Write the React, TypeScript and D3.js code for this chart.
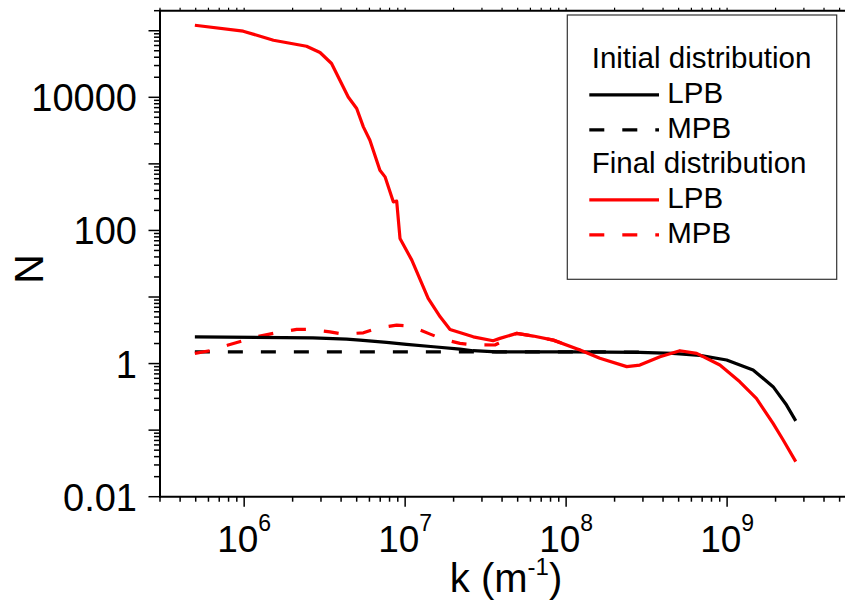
import React from 'react';
import * as d3 from 'd3';

// ---- data ----
const kInitLPB = [4.94e5, 2.67e6, 4.33e6, 5.24e6, 7.67e6, 1.02e7, 1.5e7, 2.19e7, 2.64e7, 3.7e7, 1.1e8, 2.87e8, 4.6e8, 6.77e8, 9.93e8, 1.45e9, 1.93e9, 2.34e9, 2.67e9];
const nInitLPB = [2.52, 2.44, 2.33, 2.25, 2.08, 1.94, 1.79, 1.65, 1.56, 1.5, 1.5, 1.47, 1.42, 1.33, 1.13, 0.8, 0.45, 0.238, 0.138];

const kInitMPB = [4.94e5, 1e6, 3e6, 1e7, 3e7, 1e8, 3e8];
const nInitMPB = [1.5, 1.5, 1.5, 1.5, 1.5, 1.5, 1.49];

const kFinalLPB = [4.94e5, 9.86e5, 1.52e6, 2.44e6, 2.96e6, 3.49e6, 4.43e6, 5.0e6, 5.5e6, 6.04e6, 6.97e6, 7.5e6, 8.44e6, 8.86e6, 9.29e6, 1.1e7, 1.39e7, 1.65e7, 1.9e7, 2.65e7, 3.52e7, 3.88e7, 4.93e7, 6.25e7, 8.32e7, 1.22e8, 1.62e8, 2.38e8, 2.87e8, 3.83e8, 5.09e8, 6.47e8, 9.02e8, 1.2e9, 1.52e9, 1.93e9, 2.23e9, 2.67e9];
const nFinalLPB = [1.21e5, 9.84e4, 7.2e4, 5.85e4, 4.71e4, 3.22e4, 1.01e4, 6790, 3600, 2270, 804, 638, 269, 275, 75.9, 35.8, 9.53, 5.05, 3.26, 2.52, 2.2, 2.39, 2.84, 2.59, 2.25, 1.6, 1.2, 0.9, 0.95, 1.27, 1.56, 1.42, 0.95, 0.533, 0.3, 0.126, 0.071, 0.0336];

const kFinalMPB = [4.94e5, 6.14e5, 7.96e5, 9.86e5, 1.25e6, 1.59e6, 2.12e6, 2.56e6, 3.41e6, 4.13e6, 5.5e6, 6.65e6, 8.86e6, 1.07e7, 1.43e7, 1.73e7, 2.19e7, 2.65e7, 3.61e7, 4.07e7, 4.93e7, 6.25e7, 8.32e7, 1.22e8];
const nFinalMPB = [1.42, 1.56, 1.9, 2.2, 2.59, 2.9, 3.26, 3.26, 3.0, 2.77, 2.9, 3.38, 3.78, 3.66, 2.77, 2.31, 2.01, 1.91, 1.9, 2.2, 2.84, 2.59, 2.25, 1.6];

const yTickValues = [0.01, 1, 100, 10000];
const yTickLabels = ['0.01', '1', '100', '10000'];
const xTickExponents = [6, 7, 8, 9];
const legendHeaders = ['Initial distribution', 'Final distribution'];
const legendSeries = ['LPB', 'MPB'];

const FONT = '"Liberation Sans", Arial, sans-serif';

export default function App() {
  const W = 845, H = 603;
  const left = 160, right = 845, top = 10.7, bottom = 496.7;
  const x = d3.scaleLog().domain([3e5, 5.4e9]).range([left, right]);
  const y = d3.scaleLog().domain([0.01, 2e5]).range([bottom, top]);

  const line = d3.line<[number, number]>().x(d => x(d[0])).y(d => y(d[1])).curve(d3.curveLinear);
  const zip = (ks: number[], ns: number[]) => ks.map((k, i) => [k, ns[i]] as [number, number]);

  // ticks
  const xMajor: number[] = [];
  const xMinor: number[] = [];
  for (let e = 5; e <= 9; e++) {
    for (let m = 1; m <= 9; m++) {
      const v = m * Math.pow(10, e);
      if (v < 3e5 || v > 5.4e9) continue;
      if (m === 1) xMajor.push(v); else xMinor.push(v);
    }
  }
  const yMajor: number[] = [];
  const yMinor: number[] = [];
  for (let e = -2; e <= 5; e++) {
    for (let m = 1; m <= 9; m++) {
      const v = m * Math.pow(10, e);
      if (v < 0.01 - 1e-12 || v > 2.0001e5) continue;
      if (m === 1) yMajor.push(v); else yMinor.push(v);
    }
  }

  const dash = '15,18';
  const series = [
    { d: zip(kInitMPB, nInitMPB), color: '#000', dash },
    { d: zip(kFinalMPB, nFinalMPB), color: '#ff0000', dash },
    { d: zip(kInitLPB, nInitLPB), color: '#000', dash: undefined },
    { d: zip(kFinalLPB, nFinalLPB), color: '#ff0000', dash: undefined },
  ];

  // legend
  const lgX = 567.3, lgY = 15, lgW = 269.4, lgH = 264.3;
  const rowY0 = 68.3, rowStep = 35;
  const legendRows = [
    { type: 'head', text: legendHeaders[0] },
    { type: 'item', text: legendSeries[0], color: '#000', dash: undefined },
    { type: 'item', text: legendSeries[1], color: '#000', dash },
    { type: 'head', text: legendHeaders[1] },
    { type: 'item', text: legendSeries[0], color: '#ff0000', dash: undefined },
    { type: 'item', text: legendSeries[1], color: '#ff0000', dash },
  ];

  return (
    <svg width={W} height={H} style={{ position: 'absolute', left: 0, top: 0, background: '#fff' }} fontFamily={FONT}>
      <defs>
        <clipPath id="plot">
          <rect x={left} y={top - 2} width={right - left} height={bottom - top + 2} />
        </clipPath>
      </defs>
      <rect width={W} height={H} fill="#fff" />

      {/* curves */}
      <g clipPath="url(#plot)">
        {series.map((s, i) => (
          <path key={i} d={line(s.d) || ''} fill="none" stroke={s.color} strokeWidth={3.2}
            strokeDasharray={s.dash} strokeLinejoin="round" />
        ))}
      </g>

      {/* axes */}
      <g stroke="#000">
        <line x1={left} x2={left} y1={top - 1} y2={bottom + 1} strokeWidth={2} />
        <line x1={left - 1} x2={W} y1={bottom} y2={bottom} strokeWidth={2} />
        <line x1={left - 1} x2={W} y1={top} y2={top} strokeWidth={2} />
        {yMajor.map((v, i) => (
          <line key={'ym' + i} x1={left - 11.5} x2={left} y1={y(v)} y2={y(v)} strokeWidth={1.5} />
        ))}
        {yMinor.map((v, i) => (
          <line key={'yn' + i} x1={left - 6} x2={left} y1={y(v)} y2={y(v)} strokeWidth={1.5} />
        ))}
        {xMajor.map((v, i) => (
          <line key={'xm' + i} x1={x(v)} x2={x(v)} y1={bottom} y2={bottom + 10} strokeWidth={1.5} />
        ))}
        {xMinor.map((v, i) => (
          <line key={'xn' + i} x1={x(v)} x2={x(v)} y1={bottom} y2={bottom + 5} strokeWidth={1.5} />
        ))}
        {xMajor.concat(xMinor).map((v, i) => (
          <line key={'xt' + i} x1={x(v)} x2={x(v)} y1={top} y2={top - 3} strokeWidth={1.2} />
        ))}
      </g>

      {/* y tick labels */}
      {yTickValues.map((v, i) => (
        <text key={'yl' + i} x={137} y={y(v) + 14} fontSize={38} textAnchor="end" fill="#000">
          {yTickLabels[i]}
        </text>
      ))}

      {/* x tick labels */}
      {xTickExponents.map((e, i) => (
        <text key={'xl' + i} x={x(Math.pow(10, e))} y={551.7} fontSize={37} textAnchor="middle" fill="#000">
          <tspan>10</tspan>
          <tspan fontSize={23} dy={-21}>{String(e)}</tspan>
        </text>
      ))}

      {/* axis titles */}
      <text x={506} y={592} fontSize={40} textAnchor="middle" fill="#000">
        <tspan>k (m</tspan>
        <tspan fontSize={24} dy={-17}>-1</tspan>
        <tspan dy={17}>)</tspan>
      </text>
      <text transform="translate(43,269) rotate(-90)" fontSize={41} textAnchor="middle" fill="#000">N</text>

      {/* legend */}
      <rect x={lgX} y={lgY} width={lgW} height={lgH} fill="#fff" stroke="#333" strokeWidth={1.2} />
      {legendRows.map((r, i) => {
        const by = rowY0 + i * rowStep;
        if (r.type === 'head') {
          return <text key={'lg' + i} x={591.7} y={by} fontSize={29.5} fill="#000">{r.text}</text>;
        }
        return (
          <g key={'lg' + i}>
            <line x1={589.3} x2={659} y1={by - 8.5} y2={by - 8.5} stroke={r.color} strokeWidth={3.2} strokeDasharray={r.dash} />
            <text x={667.3} y={by} fontSize={29.5} fill="#000">{r.text}</text>
          </g>
        );
      })}
    </svg>
  );
}
